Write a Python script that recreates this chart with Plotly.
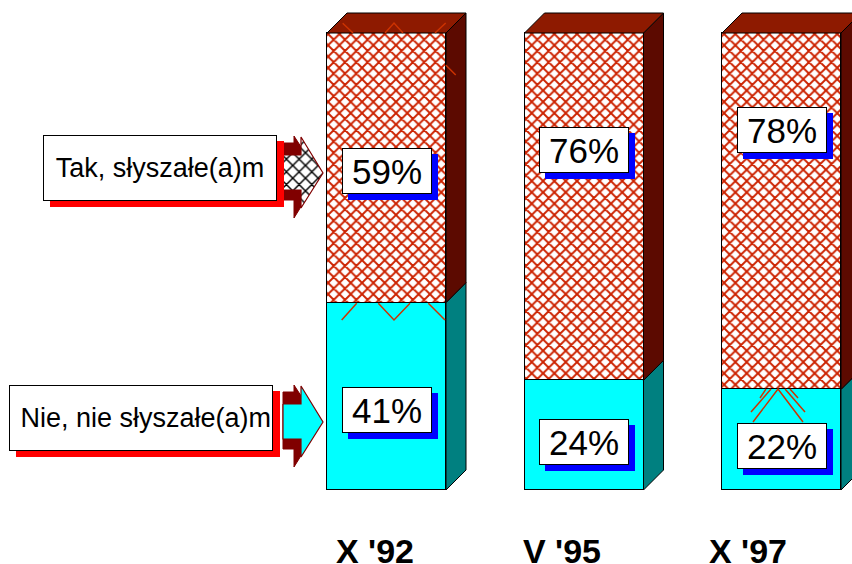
import plotly.graph_objects as go

# ---------------- data ----------------
periods = ["X '92", "V '95", "X '97"]
heard_yes = [59, 76, 78]      # "Tak, słyszałe(a)m"
heard_no = [41, 24, 22]       # "Nie, nie słyszałe(a)m"
series_names = ["Tak, słyszałe(a)m", "Nie, nie słyszałe(a)m"]

# label anchor positions (value units) for the percentage boxes
label_pos_yes = [69.8, 74.4, 78.8]
label_pos_no = [17.5, 10.5, 9.6]

# ---------------- geometry helpers ----------------
W, H = 852, 564
X0, SX = 386.5, 197.5     # pixel of x=0, pixels per category
Y0, SY = 490.0, 4.57      # pixel of y=0, pixels per percent


def dx_(px):
    return px / SX


def dy_(px):
    return px / SY


def X(px):
    return (px - X0) / SX


def Y(py):
    return (Y0 - py) / SY


BAR_W = dx_(119)
DEPTH_X = dx_(20)
DEPTH_Y = dy_(20)

TOP_FACE = "#8E1A00"
TOP_SIDE = "#5C0A00"
CYAN = "#00FFFF"
CYAN_SIDE = "#008080"
HATCH = "#CC2200"
STRAY = "#CC3300"

fig = go.Figure()

xs = list(range(len(periods)))

# side and top faces (3D extrusion), computed from the data
for i, (no, yes) in enumerate(zip(heard_no, heard_yes)):
    r = i + BAR_W / 2
    l = i - BAR_W / 2
    total = no + yes
    fig.add_trace(go.Scatter(
        x=[r, r + DEPTH_X, r + DEPTH_X, r, r],
        y=[0, DEPTH_Y, no + DEPTH_Y, no, 0],
        fill="toself", fillcolor=CYAN_SIDE, mode="lines",
        line=dict(color="black", width=1), hoverinfo="skip", showlegend=False))
    fig.add_trace(go.Scatter(
        x=[r, r + DEPTH_X, r + DEPTH_X, r, r],
        y=[no, no + DEPTH_Y, total + DEPTH_Y, total, no],
        fill="toself", fillcolor=TOP_SIDE, mode="lines",
        line=dict(color="black", width=1), hoverinfo="skip", showlegend=False))
    fig.add_trace(go.Scatter(
        x=[l, l + DEPTH_X, r + DEPTH_X, r, l],
        y=[total, total + DEPTH_Y, total + DEPTH_Y, total, total],
        fill="toself", fillcolor=TOP_FACE, mode="lines",
        line=dict(color="black", width=1), hoverinfo="skip", showlegend=False))

# front faces: stacked bars
fig.add_trace(go.Bar(
    x=xs, y=heard_no, width=BAR_W, name=series_names[1],
    marker=dict(color=CYAN, line=dict(color="black", width=1.2)),
    showlegend=False, hoverinfo="skip"))
fig.add_trace(go.Bar(
    x=xs, y=heard_yes, width=BAR_W, name=series_names[0],
    marker=dict(color="white", line=dict(color="black", width=1.2),
                pattern=dict(shape="x", fgcolor=HATCH, bgcolor="white",
                             size=8, solidity=0.42, fillmode="replace")),
    showlegend=False, hoverinfo="skip"))

# faint stray hatch strokes of the original 3-D rendering
strays = [
    [(342.7, 23.3), (353, 33)],
    [(385, 33), (394, 23), (403, 33)],
    [(435, 33), (445.7, 23)],
    [(445.7, 65), (455.7, 75)],
    [(341.7, 320), (356.7, 303.3)],
    [(378.3, 303.3), (394, 320), (410, 303.3)],
    [(428.3, 303.3), (445, 320)],
    [(753, 422), (778, 389), (803, 422)],
    [(751, 412), (771, 389)],
    [(785, 389), (805, 412)],
    [(760, 398), (766, 389)],
    [(790, 389), (798, 398)],
]
for seg in strays:
    fig.add_trace(go.Scatter(x=[X(p[0]) for p in seg], y=[Y(p[1]) for p in seg],
                             mode="lines", line=dict(color=STRAY, width=1.5),
                             hoverinfo="skip", showlegend=False))


# ---------------- legend arrows ----------------
def poly(pts):
    return ([X(p[0]) for p in pts] + [X(pts[0][0])],
            [Y(p[1]) for p in pts] + [Y(pts[0][1])])


def arrow_back(c):
    return poly([(283, c - 30), (294, c - 30), (294, c - 37), (320, c + 3),
                 (294, c + 45), (294, c + 27), (283, c + 27)])


def arrow_front(c):
    return poly([(283, c - 18), (301, c - 18), (301, c - 36), (323, c),
                 (301, c + 35), (301, c + 17), (283, c + 17)])


for c, front_fill in [(173, "hatch"), (422, "cyan")]:
    bx, by = arrow_back(c)
    fig.add_trace(go.Scatter(x=bx, y=by, fill="toself", fillcolor="#800000",
                             mode="lines", line=dict(color="#800000", width=1),
                             hoverinfo="skip", showlegend=False))
    fx, fy = arrow_front(c)
    if front_fill == "hatch":
        fig.add_trace(go.Scatter(x=fx, y=fy, fill="toself", fillcolor="white",
                                 fillpattern=dict(shape="x", fgcolor="black", bgcolor="white",
                                                  size=9, solidity=0.3, fillmode="replace"),
                                 mode="lines", line=dict(color="#800000", width=1.2),
                                 hoverinfo="skip", showlegend=False))
    else:
        fig.add_trace(go.Scatter(x=fx, y=fy, fill="toself", fillcolor=CYAN,
                                 mode="lines", line=dict(color="#800000", width=1.2),
                                 hoverinfo="skip", showlegend=False))

annotations = []
FONT = "Liberation Sans, Arial, sans-serif"

# legend boxes (with red shadow)
legend_boxes = [
    (series_names[0], 160, 168, 230, "center"),
    (series_names[1], 141, 418, 260, "right"),
]
for text, cx, cy, bw, al in legend_boxes:
    annotations.append(dict(
        x=X(cx), y=Y(cy), xref="x", yref="y", text=text, showarrow=False,
        width=bw, height=62, align=al, valign="middle",
        bgcolor="#FF0000", bordercolor="#FF0000", borderwidth=1, borderpad=1,
        font=dict(family=FONT, size=27, color="#FF0000"), xshift=7, yshift=-6))
    annotations.append(dict(
        x=X(cx), y=Y(cy), xref="x", yref="y", text=text, showarrow=False,
        width=bw, height=62, align=al, valign="middle",
        bgcolor="white", bordercolor="black", borderwidth=1, borderpad=1,
        font=dict(family=FONT, size=27, color="black")))

# percentage boxes (with blue shadow)
for i in xs:
    for val, ypos in [(heard_yes[i], label_pos_yes[i]), (heard_no[i], label_pos_no[i])]:
        t = f"{val}%"
        annotations.append(dict(
            x=i, y=ypos, xref="x", yref="y", text=t, showarrow=False,
            width=84, height=40, bgcolor="#0000FF", bordercolor="#0000FF",
            borderwidth=1, borderpad=2, font=dict(family=FONT, size=35, color="#0000FF"),
            xshift=6, yshift=-6))
        annotations.append(dict(
            x=i, y=ypos, xref="x", yref="y", text=t, showarrow=False,
            width=84, height=40, bgcolor="white", bordercolor="black",
            borderwidth=1, borderpad=2, font=dict(family=FONT, size=35, color="black")))

# category labels
label_shift = [-11.5, -22.5, -33.5]
for i, p in enumerate(periods):
    annotations.append(dict(
        x=i, y=Y(551), xref="x", yref="y", text=f"<b>{p}</b>", showarrow=False,
        xshift=label_shift[i], font=dict(family=FONT, size=34, color="black")))

fig.update_layout(
    width=W, height=H,
    margin=dict(l=0, r=0, t=0, b=0),
    paper_bgcolor="white", plot_bgcolor="white",
    barmode="stack", bargap=0,
    xaxis=dict(range=[X(0), X(W)], visible=False, fixedrange=True),
    yaxis=dict(range=[Y(H), Y(0)], visible=False, fixedrange=True),
    annotations=annotations,
    showlegend=False,
)

fig.write_html("out.html", config={"displayModeBar": False},
               post_script="document.body.style.margin='0';document.body.style.overflow='hidden';")
